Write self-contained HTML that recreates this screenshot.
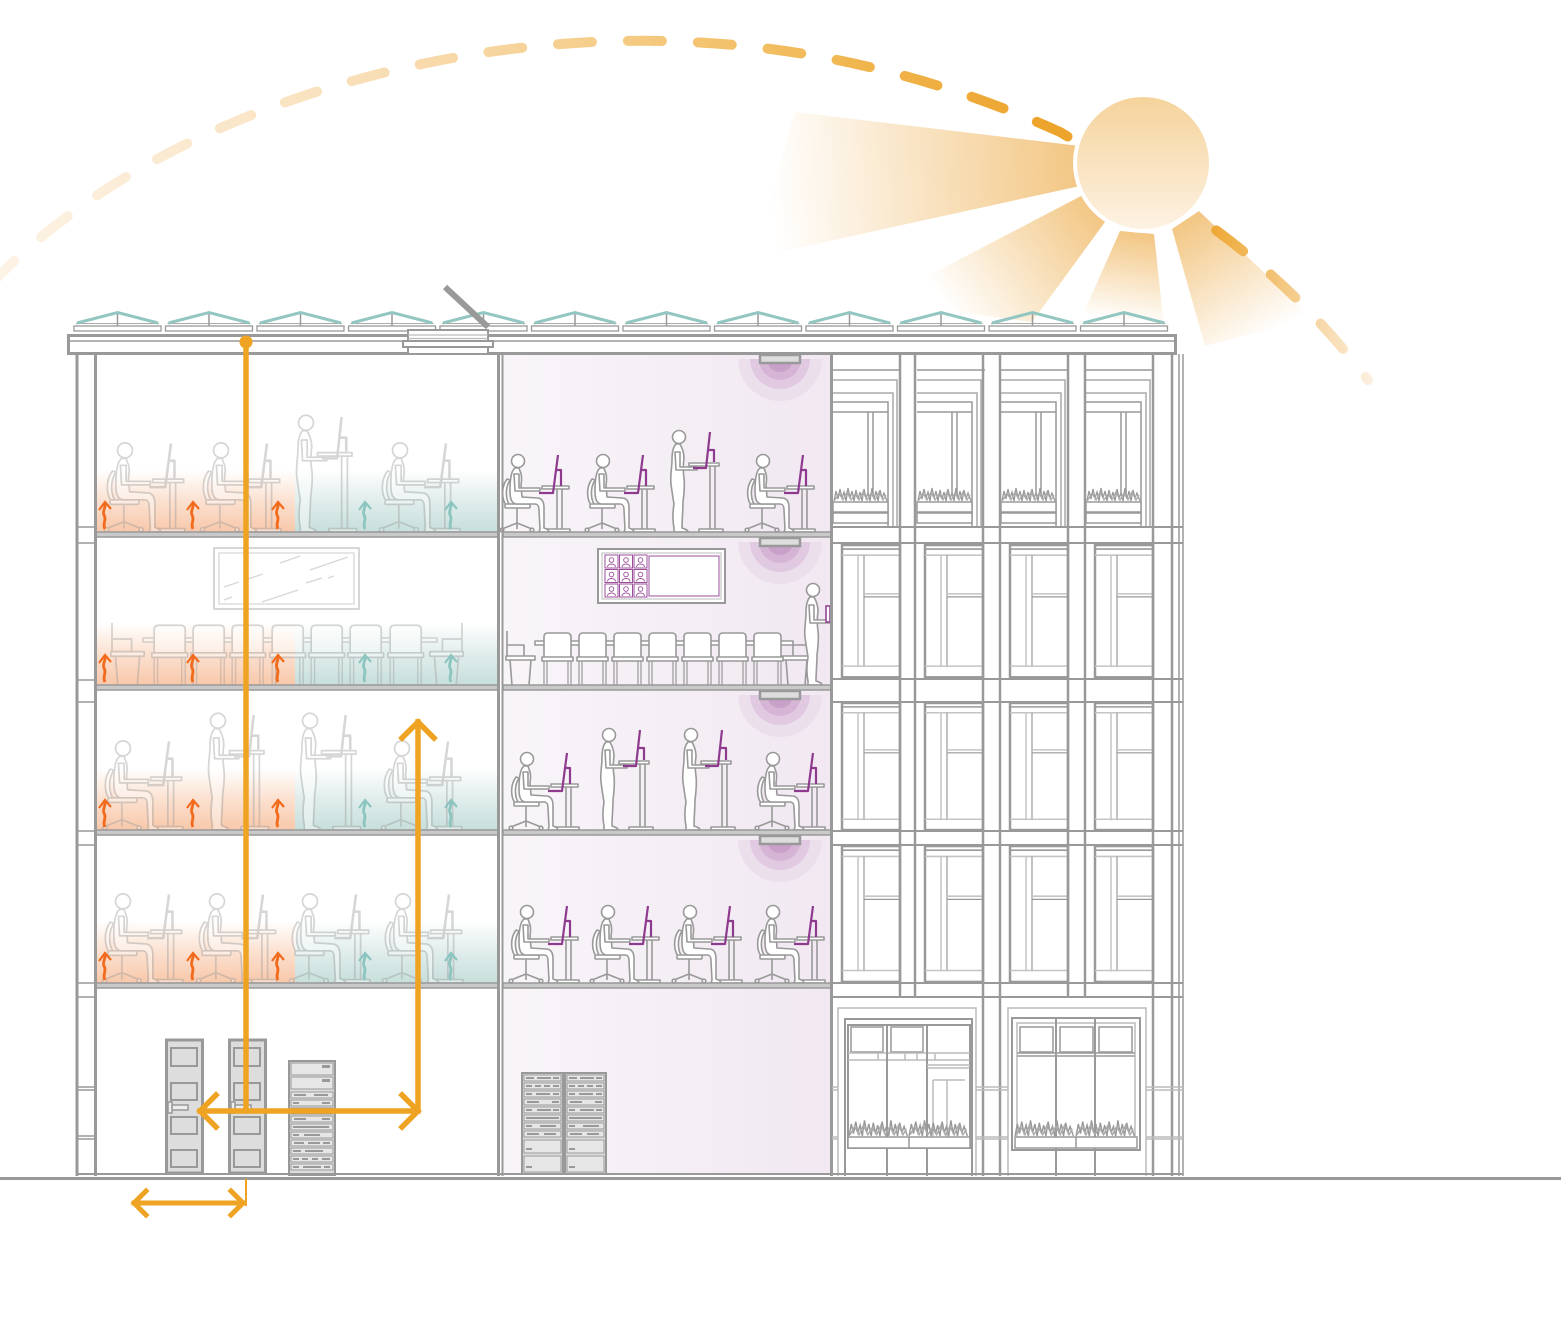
<!DOCTYPE html>
<html><head><meta charset="utf-8"><style>
html,body{margin:0;padding:0;background:#fff;}
svg{display:block;}
</style></head><body>
<svg width="1561" height="1320" viewBox="0 0 1561 1320" xmlns="http://www.w3.org/2000/svg">
<defs>
 <linearGradient id="arcG" gradientUnits="userSpaceOnUse" x1="0" y1="0" x2="1370" y2="0">
  <stop offset="0" stop-color="#fdf3e6"/>
  <stop offset="0.23" stop-color="#f9e2bf"/>
  <stop offset="0.42" stop-color="#f6cf8f"/>
  <stop offset="0.6" stop-color="#f1b955"/>
  <stop offset="0.76" stop-color="#eda42d"/>
  <stop offset="0.88" stop-color="#eda52e"/>
  <stop offset="0.92" stop-color="#f1bd66"/>
  <stop offset="0.96" stop-color="#f6d6a4"/>
  <stop offset="1" stop-color="#fcefde"/>
 </linearGradient>
 <linearGradient id="sunG" x1="0" y1="0" x2="0" y2="1">
  <stop offset="0" stop-color="#f5d39b"/>
  <stop offset="1" stop-color="#fdf2e3"/>
 </linearGradient>
 <linearGradient id="r1" gradientUnits="userSpaceOnUse" x1="1078" y1="166" x2="770" y2="190">
  <stop offset="0" stop-color="#f2c47e" stop-opacity="0.95"/>
  <stop offset="1" stop-color="#f2c47e" stop-opacity="0"/>
 </linearGradient>
 <linearGradient id="r2" gradientUnits="userSpaceOnUse" x1="1092" y1="208" x2="950" y2="312">
  <stop offset="0" stop-color="#f2c47e" stop-opacity="0.95"/>
  <stop offset="1" stop-color="#f2c47e" stop-opacity="0"/>
 </linearGradient>
 <linearGradient id="r3" gradientUnits="userSpaceOnUse" x1="1137" y1="234" x2="1125" y2="322">
  <stop offset="0" stop-color="#f2c47e" stop-opacity="0.95"/>
  <stop offset="1" stop-color="#f2c47e" stop-opacity="0"/>
 </linearGradient>
 <linearGradient id="r4" gradientUnits="userSpaceOnUse" x1="1185" y1="222" x2="1258" y2="342">
  <stop offset="0" stop-color="#f2c47e" stop-opacity="0.95"/>
  <stop offset="1" stop-color="#f2c47e" stop-opacity="0"/>
 </linearGradient>
 <linearGradient id="lav" x1="0" y1="0" x2="1" y2="0">
  <stop offset="0" stop-color="#f8f5f9"/>
  <stop offset="1" stop-color="#f1e8f1"/>
 </linearGradient>
 <linearGradient id="gO" x1="0" y1="0" x2="0" y2="1">
  <stop offset="0" stop-color="#f8c8aa" stop-opacity="0"/>
  <stop offset="0.5" stop-color="#f8c8aa" stop-opacity="0.55"/>
  <stop offset="1" stop-color="#f8c8aa" stop-opacity="1"/>
 </linearGradient>
 <linearGradient id="gT" x1="0" y1="0" x2="0" y2="1">
  <stop offset="0" stop-color="#c7dfdc" stop-opacity="0"/>
  <stop offset="0.5" stop-color="#c7dfdc" stop-opacity="0.55"/>
  <stop offset="1" stop-color="#c7dfdc" stop-opacity="1"/>
 </linearGradient>

 <!-- seated person with chair & desk -->
 <g id="sit">
  <path d="M-11,-53 C-17,-45 -17,-31 -10,-25 L-7,-25 C-13,-32 -13,-44 -8,-52 Z" fill="#fff"/>
  <path d="M-1,-24 V-9 M-16,-3 L-1,-9 L14,-3 M-1,-9 V-3" fill="none"/>
  <circle cx="-16" cy="-2" r="1.8" fill="#fff"/>
  <circle cx="14" cy="-2" r="1.8" fill="#fff"/>
  <rect x="-13" y="-28" width="25" height="4" rx="1" fill="#fff"/>
  <rect x="24" y="-46" width="27" height="3" fill="#fff"/>
  <path d="M39,-43 V-3 M44,-43 V-3" fill="none"/>
  <rect x="28" y="-3" width="24" height="3" fill="#fff"/>
  <path d="M-3,-64 C-7,-61 -8,-52 -8,-42 C-8,-34 -7,-29 -2,-28 L17,-28 C20,-28 21,-26 21,-22 L22,-3 L21,0 L31,0 C31,-2 29,-3 26,-4 L26,-24 C26,-30 24,-34 19,-34 L4,-35 L3,-47 C4,-53 4,-57 2,-61 L1,-64 Z" fill="#fff"/>
  <circle cx="0" cy="-71" r="6.5" fill="#fff"/>
  <path d="M-4,-58 L-3,-41 L22,-41 L22,-44 L1,-44 L1,-58 Z" fill="#fff"/>
  <path d="M21,-39 L35,-39 L40,-77" fill="none" style="stroke:var(--acc)" stroke-width="2.2"/>
  <path d="M39,-62 L43,-62 L43,-46" fill="none" style="stroke:var(--acc)" stroke-width="2.2"/>
 </g>
 <!-- standing person -->
 <g id="stdP">
  <path d="M-3,-88 C-6,-85 -7,-80 -7,-72 C-7,-64 -9,-56 -8,-48 C-7,-40 -6,-34 -5,-28 C-6,-22 -7,-14 -5,-4 L-5,0 L9,0 C9,-2 6,-3 3,-4 C3,-12 4,-22 4,-30 C5,-38 6,-46 5,-54 C4,-60 4,-66 5,-74 C5,-80 3,-84 1,-88 Z" fill="#fff"/>
  <circle cx="0" cy="-95" r="6.5" fill="#fff"/>
  <path d="M-4,-80 L-3,-62 L18,-62 L18,-65 L1,-65 L1,-80 Z" fill="#fff"/>
 </g>
 <g id="std">
  <rect x="10" y="-69" width="30" height="3" fill="#fff"/>
  <path d="M31,-66 V-3 M36,-66 V-3" fill="none"/>
  <rect x="20" y="-3" width="24" height="3" fill="#fff"/>
  <use href="#stdP"/>
  <path d="M14,-64 L27,-64 L31,-100" fill="none" style="stroke:var(--acc)" stroke-width="2.2"/>
  <path d="M30,-82 L35,-82 L35,-70" fill="none" style="stroke:var(--acc)" stroke-width="2.2"/>
 </g>
 <!-- meeting chair front -->
 <g id="mch">
  <path d="M1,-27 V-48 Q1,-52 5,-52 H24 Q28,-52 28,-48 V-27 Z" fill="#fff"/>
  <rect x="-1" y="-28" width="31" height="4" fill="#fff"/>
  <path d="M1,-24 V0 M28,-24 V0 M4,-24 V0 M25,-24 V0" fill="none" stroke-width="1.2"/>
 </g>
 <!-- side chair -->
 <g id="sch">
  <path d="M0,-54 V-28 M0,-40 H17 V-28 M3,-25 L5,0 M24,-25 L22,0" fill="none"/>
  <rect x="-1" y="-29" width="29" height="4" fill="#fff"/>
 </g>
 <!-- heat arrow -->
 <g id="ha" fill="none">
  <path d="M0,0 C-3,-5 2,-9 -1,-14 C-3,-18 1,-21 0,-26" stroke-width="2.8"/>
  <path d="M-6,-19 L0,-27 L6,-20" stroke-width="2.2"/>
 </g>
 <!-- plants -->
 <g id="pl" fill="none" stroke="#999" stroke-width="1.3">
  <path d="M1,0 L3,-10 L5,-2 L7,-12 L9,-3 L11,-9 L13,0 L15,-13 L17,-3 L19,-10 L21,0 L23,-11 L25,-2 L27,-9 L29,0 L31,-12 L33,-3 L35,-8 L37,0 L39,-13 L41,-2 L43,-10 L45,0 L47,-11 L49,-3 L51,-8 L54,0"/>
  <path d="M2,-1 L6,-8 L10,-1 L14,-9 L18,-1 L22,-7 L26,-1 L30,-9 L34,-1 L38,-8 L42,-1 L46,-9 L50,-1 L53,-6" stroke="#aaa"/>
 </g>
 <!-- skylight -->
 <g id="sk">
  <rect x="0" y="326" width="87" height="5" fill="#fff" stroke="#999" stroke-width="1.3"/>
  <path d="M2,323.5 H85" stroke="#aaa" stroke-width="1"/>
  <path d="M43.5,313 V326" stroke="#999" stroke-width="1.5"/>
  <path d="M3,323 L43.5,312.5 L84,323" stroke="#93c6c1" stroke-width="3" fill="none"/>
 </g>
 <!-- top floor bay -->
 <g id="tb" fill="none">
  <path d="M0,16 H68" stroke="#999" stroke-width="1.5"/>
  <path d="M0,26 H64 V173 M0,39 H60 V173" stroke="#aaa" stroke-width="1.5"/>
  <path d="M0,48 H55 V173 M0,58 H55" stroke="#999" stroke-width="1.5"/>
  <path d="M35,58 V140 M40,58 V140" stroke="#999" stroke-width="1.5"/>
  <use href="#pl" transform="translate(0,147)"/>
  <rect x="0" y="148" width="55" height="10" fill="#fff" stroke="#999" stroke-width="1.5"/>
  <rect x="0" y="159" width="55" height="10" fill="#fff" stroke="#999" stroke-width="1.5"/>
 </g>
 <!-- window -->
 <g id="wn" fill="none">
  <rect x="0" y="0" width="58" height="130" fill="#fff" stroke="#999" stroke-width="2.5"/>
  <path d="M0,4 H58" stroke="#999" stroke-width="1.5"/>
  <path d="M0,10 H58" stroke="#c4c4c4" stroke-width="1.5"/>
  <path d="M16,10 V120" stroke="#c4c4c4" stroke-width="1.5"/>
  <path d="M22,10 V120" stroke="#999" stroke-width="1.2"/>
  <path d="M22,48 H58" stroke="#c4c4c4" stroke-width="1.5"/>
  <path d="M22,51 H58" stroke="#999" stroke-width="1.2"/>
  <path d="M0,119 H58" stroke="#c4c4c4" stroke-width="1.5"/>
 </g>
 <!-- video cell -->
 <g id="vc">
  <rect width="13" height="13" fill="#fff" stroke="#9b4f9b" stroke-width="1"/>
  <circle cx="6.5" cy="5" r="2.3" fill="none" stroke="#9b4f9b" stroke-width="0.9"/>
  <path d="M2.5,12 C2.5,8 10.5,8 10.5,12" fill="none" stroke="#9b4f9b" stroke-width="0.9"/>
 </g>
</defs>

<!-- SUN RAYS -->
<polygon points="1080,146 795,112 752,258 1080,186" fill="url(#r1)"/>
<polygon points="1083,195 878,302 1032,322 1105,222" fill="url(#r2)"/>
<polygon points="1120,231 1084,312 1164,326 1154,234" fill="url(#r3)"/>
<polygon points="1172,229 1205,346 1312,318 1199,211" fill="url(#r4)"/>

<!-- ARC -->
<path d="M-10,285 C140,127 370,65 520,48 C700,27 880,51 1060,132 C1160,192 1265,245 1368,380" fill="none" stroke="url(#arcG)" stroke-width="10" stroke-linecap="round" stroke-dasharray="34 36"/>

<!-- SUN -->
<circle cx="1143" cy="163" r="70" fill="#fff"/>
<circle cx="1143" cy="163" r="66" fill="url(#sunG)"/>

<!-- MIDDLE BACKGROUND -->
<rect x="503" y="354" width="328" height="821" fill="url(#lav)"/>

<!-- LEFT GRADIENTS -->
<g>
 <rect x="96" y="470" width="199" height="62" fill="url(#gO)"/>
 <rect x="295" y="470" width="203" height="62" fill="url(#gT)"/>
 <rect x="96" y="623" width="199" height="62" fill="url(#gO)"/>
 <rect x="295" y="623" width="203" height="62" fill="url(#gT)"/>
 <rect x="96" y="768" width="199" height="62" fill="url(#gO)"/>
 <rect x="295" y="768" width="203" height="62" fill="url(#gT)"/>
 <rect x="96" y="921" width="199" height="62" fill="url(#gO)"/>
 <rect x="295" y="921" width="203" height="62" fill="url(#gT)"/>
</g>

<!-- GLOWS -->
<g>
 <path d="M738,359 A42,42 0 0 0 822,359 Z" fill="#ecdfec"/>
 <path d="M750,359 A30,30 0 0 0 810,359 Z" fill="#e1cae1"/>
 <path d="M759,359 A21,21 0 0 0 801,359 Z" fill="#d5b4d5"/>
 <path d="M767,359 A13,13 0 0 0 793,359 Z" fill="#c9a0c9"/>

 <path d="M738,542 A42,42 0 0 0 822,542 Z" fill="#ecdfec"/>
 <path d="M750,542 A30,30 0 0 0 810,542 Z" fill="#e1cae1"/>
 <path d="M759,542 A21,21 0 0 0 801,542 Z" fill="#d5b4d5"/>
 <path d="M767,542 A13,13 0 0 0 793,542 Z" fill="#c9a0c9"/>

 <path d="M738,695 A42,42 0 0 0 822,695 Z" fill="#ecdfec"/>
 <path d="M750,695 A30,30 0 0 0 810,695 Z" fill="#e1cae1"/>
 <path d="M759,695 A21,21 0 0 0 801,695 Z" fill="#d5b4d5"/>
 <path d="M767,695 A13,13 0 0 0 793,695 Z" fill="#c9a0c9"/>

 <path d="M738,840 A42,42 0 0 0 822,840 Z" fill="#ecdfec"/>
 <path d="M750,840 A30,30 0 0 0 810,840 Z" fill="#e1cae1"/>
 <path d="M759,840 A21,21 0 0 0 801,840 Z" fill="#d5b4d5"/>
 <path d="M767,840 A13,13 0 0 0 793,840 Z" fill="#c9a0c9"/>
</g>
<g fill="#ddd" stroke="#999" stroke-width="2.5">
 <rect x="760" y="355" width="40" height="8"/>
 <rect x="760" y="538" width="40" height="8"/>
 <rect x="760" y="691" width="40" height="8"/>
 <rect x="760" y="836" width="40" height="8"/>
</g>

<!-- LEFT FIGURES (faded) -->
<g stroke="#999" stroke-width="1.5" stroke-linejoin="round" opacity="0.4" style="--acc:#999">
 <use href="#sit" transform="translate(125,532) scale(1.15)"/>
 <use href="#sit" transform="translate(221,532) scale(1.15)"/>
 <use href="#std" transform="translate(306,532) scale(1.15)"/>
 <use href="#sit" transform="translate(400,532) scale(1.15)"/>

 <use href="#sit" transform="translate(123,830) scale(1.15)"/>
 <use href="#std" transform="translate(218,830) scale(1.15)"/>
 <use href="#std" transform="translate(310,830) scale(1.15)"/>
 <use href="#sit" transform="translate(402,830) scale(1.15)"/>

 <use href="#sit" transform="translate(123,983) scale(1.15)"/>
 <use href="#sit" transform="translate(217,983) scale(1.15)"/>
 <use href="#sit" transform="translate(310,983) scale(1.15)"/>
 <use href="#sit" transform="translate(403,983) scale(1.15)"/>

 <!-- left meeting room -->
 <rect x="214" y="548" width="145" height="61" fill="#fff" stroke-width="2"/>
 <rect x="219" y="553" width="135" height="51" fill="none" stroke-width="1.3"/>
 <path d="M224,587 L239,582 M245,580 L263,574 M280,563 L300,556 M310,570 L348,557 M262,602 L298,590 M306,583 L322,578 M328,578 L334,576 M224,600 L232,597" fill="none" stroke-width="1.3"/>
 <rect x="143" y="638" width="294" height="4" fill="#fff"/>
 <use href="#sch" transform="translate(112,685) scale(1.15)"/>
 <use href="#sch" transform="translate(462,685) scale(-1.15,1.15)"/>
 <use href="#mch" transform="translate(153,685) scale(1.15)"/>
 <use href="#mch" transform="translate(192,685) scale(1.15)"/>
 <use href="#mch" transform="translate(231,685) scale(1.15)"/>
 <use href="#mch" transform="translate(271,685) scale(1.15)"/>
 <use href="#mch" transform="translate(310,685) scale(1.15)"/>
 <use href="#mch" transform="translate(349,685) scale(1.15)"/>
 <use href="#mch" transform="translate(389,685) scale(1.15)"/>
</g>

<!-- MIDDLE FIGURES -->
<g stroke="#999" stroke-width="1.6" stroke-linejoin="round" style="--acc:#8e3a8e">
 <use href="#sit" transform="translate(518,532)"/>
 <use href="#sit" transform="translate(603,532)"/>
 <use href="#std" transform="translate(679,532)"/>
 <use href="#sit" transform="translate(763,532)"/>

 <use href="#sit" transform="translate(527,830)"/>
 <use href="#std" transform="translate(609,830)"/>
 <use href="#std" transform="translate(691,830)"/>
 <use href="#sit" transform="translate(773,830)"/>

 <use href="#sit" transform="translate(527,983)"/>
 <use href="#sit" transform="translate(608,983)"/>
 <use href="#sit" transform="translate(690,983)"/>
 <use href="#sit" transform="translate(773,983)"/>

 <!-- meeting -->
 <rect x="535" y="641" width="258" height="4" fill="#fff"/>
 <use href="#sch" transform="translate(507,685)"/>
 <use href="#sch" transform="translate(810,685) scale(-1,1)"/>
 <use href="#mch" transform="translate(543,685)"/>
 <use href="#mch" transform="translate(578,685)"/>
 <use href="#mch" transform="translate(613,685)"/>
 <use href="#mch" transform="translate(648,685)"/>
 <use href="#mch" transform="translate(683,685)"/>
 <use href="#mch" transform="translate(718,685)"/>
 <use href="#mch" transform="translate(753,685)"/>
 <use href="#stdP" transform="translate(813,685)"/>
</g>
<rect x="826" y="606" width="4" height="16" fill="#fff" stroke="#8e3a8e" stroke-width="1.5"/>
<!-- video screen -->
<rect x="598" y="549" width="127" height="54" fill="#fff" stroke="#999" stroke-width="2"/>
<rect x="602" y="553" width="119" height="46" fill="#fff" stroke="#bbb" stroke-width="1"/>
<use href="#vc" transform="translate(605,555)"/>
<use href="#vc" transform="translate(619.5,555)"/>
<use href="#vc" transform="translate(634,555)"/>
<use href="#vc" transform="translate(605,569.5)"/>
<use href="#vc" transform="translate(619.5,569.5)"/>
<use href="#vc" transform="translate(634,569.5)"/>
<use href="#vc" transform="translate(605,584)"/>
<use href="#vc" transform="translate(619.5,584)"/>
<use href="#vc" transform="translate(634,584)"/>
<rect x="649" y="556" width="70" height="40" fill="#fff" stroke="#9b4f9b" stroke-width="1"/>

<!-- HEAT ARROWS -->
<g stroke="#f26a1b">
 <use href="#ha" transform="translate(105,529)"/><use href="#ha" transform="translate(193,529)"/><use href="#ha" transform="translate(278,529)"/>
 <use href="#ha" transform="translate(105,682)"/><use href="#ha" transform="translate(193,682)"/><use href="#ha" transform="translate(278,682)"/>
 <use href="#ha" transform="translate(105,827)"/><use href="#ha" transform="translate(193,827)"/><use href="#ha" transform="translate(278,827)"/>
 <use href="#ha" transform="translate(105,980)"/><use href="#ha" transform="translate(193,980)"/><use href="#ha" transform="translate(278,980)"/>
</g>
<g stroke="#8cc5c0">
 <use href="#ha" transform="translate(365,529)"/><use href="#ha" transform="translate(451,529)"/>
 <use href="#ha" transform="translate(365,682)"/><use href="#ha" transform="translate(451,682)"/>
 <use href="#ha" transform="translate(365,827)"/><use href="#ha" transform="translate(451,827)"/>
 <use href="#ha" transform="translate(365,980)"/><use href="#ha" transform="translate(451,980)"/>
</g>

<!-- SLABS -->
<g fill="#c9c9c9" stroke="#999" stroke-width="1.5">
 <rect x="96" y="532" width="402" height="5"/>
 <rect x="503" y="532" width="328" height="5"/>
 <rect x="96" y="685" width="402" height="5"/>
 <rect x="503" y="685" width="328" height="5"/>
 <rect x="96" y="830" width="402" height="5"/>
 <rect x="503" y="830" width="328" height="5"/>
 <rect x="96" y="983" width="402" height="5"/>
 <rect x="503" y="983" width="328" height="5"/>
</g>

<!-- WALLS -->
<g stroke="#999" fill="none">
 <path d="M77,354 V1176" stroke-width="3"/>
 <path d="M95.5,354 V1176" stroke-width="3"/>
 <path d="M498.5,354 V1176" stroke-width="3"/>
 <path d="M502.5,354 V1176" stroke-width="2"/>
 <path d="M831.5,354 V1176" stroke-width="3"/>
 <path d="M77,527 H95 M77,543 H95 M77,680 H95 M77,702 H95 M77,831 H95 M77,845 H95 M77,983 H95 M77,997 H95 M77,1087 H95 M77,1090 H95 M77,1136 H95 M77,1139 H95" stroke-width="1.5"/>
</g>

<!-- FACADE -->
<g fill="none">
 <use href="#tb" transform="translate(833,354)"/>
 <use href="#tb" transform="translate(917,354)"/>
 <use href="#tb" transform="translate(1001,354)"/>
 <use href="#tb" transform="translate(1086,354)"/>

 <use href="#wn" transform="translate(842,545) scale(1,1.018)"/>
 <use href="#wn" transform="translate(925,545) scale(1,1.018)"/>
 <use href="#wn" transform="translate(1010,545) scale(1,1.018)"/>
 <use href="#wn" transform="translate(1095,545) scale(1,1.018)"/>

 <use href="#wn" transform="translate(842,703) scale(1,0.977)"/>
 <use href="#wn" transform="translate(925,703) scale(1,0.977)"/>
 <use href="#wn" transform="translate(1010,703) scale(1,0.977)"/>
 <use href="#wn" transform="translate(1095,703) scale(1,0.977)"/>

 <use href="#wn" transform="translate(842,846) scale(1,1.046)"/>
 <use href="#wn" transform="translate(925,846) scale(1,1.046)"/>
 <use href="#wn" transform="translate(1010,846) scale(1,1.046)"/>
 <use href="#wn" transform="translate(1095,846) scale(1,1.046)"/>

 <path d="M832,527 H1183 M832,543 H1183 M832,679 H1183 M832,702 H1183 M832,831 H1183 M832,845 H1183 M832,983 H1183 M832,997 H1183" stroke="#999" stroke-width="2"/>
 <path d="M983,354 V1176 M1000,354 V1176 M1153,354 V1176 M1172,354 V1176" stroke="#999" stroke-width="2.5"/>
 <path d="M1179,354 V1176 M1183,354 V1176" stroke="#999" stroke-width="1.5"/>
 <path d="M900,354 V997 M915,354 V997 M1068,354 V997 M1085,354 V997" stroke="#999" stroke-width="2.5"/>

 <!-- ground floor left window group -->
 <path d="M838,1176 V1008 H976 V1176" stroke="#bbb" stroke-width="1.5"/>
 <path d="M845,1176 V1019 H972 V1176" stroke="#999" stroke-width="2"/>
 <rect x="848" y="1025" width="122" height="123" fill="#fff" stroke="#999" stroke-width="2"/>
 <rect x="851" y="1027" width="32" height="25" stroke="#999" stroke-width="1.5"/>
 <rect x="891" y="1027" width="32" height="25" stroke="#999" stroke-width="1.5"/>
 <path d="M848,1053 H970 M848,1060 H970 M878,1053 V1060 M905,1053 V1060 M917,1053 V1060 M935,1053 V1060" stroke="#bbb" stroke-width="1.5"/>
 <path d="M887,1025 V1176 M927,1025 V1176" stroke="#999" stroke-width="2"/>
 <path d="M927,1065 H970 M927,1068 H970 M933,1080 H965 M933,1080 V1140 M947,1080 V1140" stroke="#bbb" stroke-width="1.5"/>
 <use href="#pl" transform="translate(848,1136) scale(1.1,1.2)"/>
 <use href="#pl" transform="translate(908,1136) scale(1.1,1.2)"/>
 <rect x="848" y="1137" width="122" height="11" fill="#fff" stroke="#999" stroke-width="1.5"/>
 <path d="M909,1137 V1148" stroke="#999" stroke-width="1.5"/>

 <!-- ground floor right window group -->
 <path d="M1008,1176 V1008 H1146 V1176" stroke="#bbb" stroke-width="1.5"/>
 <rect x="1012" y="1018" width="128" height="132" fill="#fff" stroke="#999" stroke-width="2"/>
 <rect x="1017" y="1023" width="118" height="124" stroke="#bbb" stroke-width="1.5"/>
 <rect x="1020" y="1027" width="33" height="25" stroke="#999" stroke-width="1.5"/>
 <rect x="1060" y="1027" width="33" height="25" stroke="#999" stroke-width="1.5"/>
 <rect x="1099" y="1027" width="33" height="25" stroke="#999" stroke-width="1.5"/>
 <path d="M1017,1053 H1135 M1017,1056 H1135" stroke="#999" stroke-width="1.5"/>
 <path d="M1056,1018 V1176 M1095,1018 V1176" stroke="#999" stroke-width="2"/>
 <use href="#pl" transform="translate(1014,1136) scale(1.1,1.2)"/>
 <use href="#pl" transform="translate(1075,1136) scale(1.1,1.2)"/>
 <rect x="1015" y="1137" width="122" height="11" fill="#fff" stroke="#999" stroke-width="1.5"/>
 <path d="M1076,1137 V1148" stroke="#999" stroke-width="1.5"/>

 <path d="M832,1087 H838 M832,1090 H838 M976,1087 H1008 M976,1090 H1008 M1146,1087 H1183 M1146,1090 H1183 M832,1137 H838 M832,1139 H838 M976,1137 H1008 M976,1139 H1008 M1146,1137 H1183 M1146,1139 H1183" stroke="#bbb" stroke-width="1.5"/>
</g>

<!-- ROOF -->
<rect x="68.5" y="335.5" width="1107" height="18" fill="#fff" stroke="#999" stroke-width="3"/>
<path d="M70,341 H1174" stroke="#999" stroke-width="1.5"/>
<g>
 <use href="#sk" transform="translate(74,0)"/>
 <use href="#sk" transform="translate(165.5,0)"/>
 <use href="#sk" transform="translate(257,0)"/>
 <use href="#sk" transform="translate(348.5,0)"/>
 <use href="#sk" transform="translate(440,0)"/>
 <use href="#sk" transform="translate(531.5,0)"/>
 <use href="#sk" transform="translate(623,0)"/>
 <use href="#sk" transform="translate(714.5,0)"/>
 <use href="#sk" transform="translate(806,0)"/>
 <use href="#sk" transform="translate(897.5,0)"/>
 <use href="#sk" transform="translate(989,0)"/>
 <use href="#sk" transform="translate(1080.5,0)"/>
</g>
<!-- hatch -->
<path d="M445,287 L488,327" stroke="#999" stroke-width="6"/>
<rect x="408" y="330" width="80" height="24" fill="#fff" stroke="#999" stroke-width="2"/>
<path d="M408,335 H488 M408,338.5 H488" stroke="#bbb" stroke-width="1.2"/>
<rect x="403" y="341" width="90" height="6" fill="#fff" stroke="#999" stroke-width="2"/>

<!-- GROUND FLOOR EQUIPMENT -->
<g stroke="#999">
 <rect x="166.5" y="1040" width="36" height="133" fill="#ddd" stroke-width="3"/>
 <rect x="171" y="1048" width="26" height="18" fill="#ddd" stroke-width="2"/>
 <rect x="171" y="1083" width="26" height="17" fill="#ddd" stroke-width="2"/>
 <rect x="171" y="1117" width="26" height="17" fill="#ddd" stroke-width="2"/>
 <rect x="171" y="1150" width="26" height="17" fill="#ddd" stroke-width="2"/>
 <rect x="172" y="1105" width="16" height="5" fill="#eee" stroke-width="1.5"/>
 <rect x="168" y="1102" width="4" height="11" fill="#eee" stroke-width="1.5"/>

 <rect x="229.5" y="1040" width="36" height="133" fill="#ddd" stroke-width="3"/>
 <rect x="234" y="1048" width="26" height="18" fill="#ddd" stroke-width="2"/>
 <rect x="234" y="1083" width="26" height="17" fill="#ddd" stroke-width="2"/>
 <rect x="234" y="1117" width="26" height="17" fill="#ddd" stroke-width="2"/>
 <rect x="234" y="1150" width="26" height="17" fill="#ddd" stroke-width="2"/>
 <rect x="235" y="1105" width="16" height="5" fill="#eee" stroke-width="1.5"/>
 <rect x="231" y="1102" width="4" height="11" fill="#eee" stroke-width="1.5"/>

 <!-- left rack -->
 <rect x="289" y="1061" width="46" height="114" fill="#ddd" stroke-width="2"/>
 <g fill="#e6e6e6" stroke-width="1">
  <rect x="291" y="1063" width="42" height="12"/>
  <rect x="291" y="1077" width="42" height="12"/>
  <rect x="291" y="1092" width="42" height="6"/>
  <rect x="291" y="1100" width="42" height="6"/>
  <rect x="291" y="1108" width="42" height="6"/>
  <rect x="291" y="1116" width="42" height="6"/>
  <rect x="291" y="1124" width="42" height="6"/>
  <rect x="291" y="1132" width="42" height="6"/>
  <rect x="291" y="1140" width="42" height="6"/>
  <rect x="291" y="1148" width="42" height="6"/>
  <rect x="291" y="1156" width="42" height="6"/>
  <rect x="291" y="1164" width="42" height="6"/>
 </g>
 <g fill="#999" stroke="none">
  <rect x="322" y="1065" width="8" height="3"/><rect x="322" y="1079" width="8" height="3"/>
  <rect x="294" y="1094" width="12" height="2"/><rect x="314" y="1094" width="14" height="2"/>
  <rect x="293" y="1102" width="6" height="2"/><rect x="322" y="1102" width="8" height="2"/>
  <rect x="293" y="1110" width="6" height="2"/><rect x="303" y="1110" width="14" height="2"/><rect x="322" y="1110" width="8" height="2"/>
  <rect x="294" y="1118" width="12" height="2"/><rect x="322" y="1118" width="8" height="2"/>
  <rect x="293" y="1126" width="36" height="2"/>
  <rect x="293" y="1134" width="6" height="2"/><rect x="304" y="1134" width="16" height="2"/>
  <rect x="294" y="1142" width="10" height="2"/><rect x="308" y="1142" width="12" height="2"/><rect x="323" y="1142" width="7" height="2"/>
  <rect x="293" y="1150" width="8" height="2"/><rect x="305" y="1150" width="18" height="2"/>
  <rect x="293" y="1158" width="6" height="2"/><rect x="302" y="1158" width="6" height="2"/><rect x="312" y="1158" width="6" height="2"/><rect x="322" y="1158" width="8" height="2"/>
  <rect x="293" y="1166" width="6" height="2"/><rect x="303" y="1166" width="18" height="2"/><rect x="324" y="1166" width="6" height="2"/>
 </g>

 <!-- middle racks -->
 <rect x="522" y="1073" width="41" height="101" fill="#ddd" stroke-width="2"/>
 <rect x="565" y="1073" width="41" height="101" fill="#ddd" stroke-width="2"/>
 <g fill="#e6e6e6" stroke-width="1">
  <rect x="524" y="1075" width="37" height="6"/><rect x="524" y="1083" width="37" height="6"/><rect x="524" y="1091" width="37" height="6"/><rect x="524" y="1099" width="37" height="6"/><rect x="524" y="1107" width="37" height="6"/><rect x="524" y="1115" width="37" height="6"/><rect x="524" y="1123" width="37" height="6"/><rect x="524" y="1131" width="37" height="6"/><rect x="524" y="1140" width="37" height="13"/><rect x="524" y="1156" width="37" height="16"/>
  <rect x="567" y="1075" width="37" height="6"/><rect x="567" y="1083" width="37" height="6"/><rect x="567" y="1091" width="37" height="6"/><rect x="567" y="1099" width="37" height="6"/><rect x="567" y="1107" width="37" height="6"/><rect x="567" y="1115" width="37" height="6"/><rect x="567" y="1123" width="37" height="6"/><rect x="567" y="1131" width="37" height="6"/><rect x="567" y="1140" width="37" height="13"/><rect x="567" y="1156" width="37" height="16"/>
 </g>
 <g fill="#999" stroke="none">
  <rect x="526" y="1077" width="8" height="2"/><rect x="537" y="1077" width="14" height="2"/><rect x="553" y="1077" width="6" height="2"/>
  <rect x="526" y="1085" width="6" height="2"/><rect x="535" y="1085" width="6" height="2"/><rect x="544" y="1085" width="6" height="2"/><rect x="553" y="1085" width="6" height="2"/>
  <rect x="526" y="1093" width="6" height="2"/><rect x="536" y="1093" width="14" height="2"/><rect x="553" y="1093" width="6" height="2"/>
  <rect x="527" y="1101" width="12" height="2"/><rect x="552" y="1101" width="7" height="2"/>
  <rect x="526" y="1109" width="6" height="2"/><rect x="537" y="1109" width="14" height="2"/><rect x="553" y="1109" width="6" height="2"/>
  <rect x="526" y="1117" width="33" height="2"/>
  <rect x="526" y="1125" width="6" height="2"/><rect x="540" y="1125" width="16" height="2"/>
  <rect x="527" y="1133" width="12" height="2"/><rect x="544" y="1133" width="12" height="2"/>
  <rect x="526" y="1148" width="6" height="2"/><rect x="526" y="1166" width="6" height="2"/>
  <rect x="569" y="1077" width="8" height="2"/><rect x="580" y="1077" width="14" height="2"/><rect x="596" y="1077" width="6" height="2"/>
  <rect x="569" y="1085" width="6" height="2"/><rect x="578" y="1085" width="6" height="2"/><rect x="587" y="1085" width="6" height="2"/><rect x="596" y="1085" width="6" height="2"/>
  <rect x="569" y="1093" width="6" height="2"/><rect x="579" y="1093" width="14" height="2"/><rect x="596" y="1093" width="6" height="2"/>
  <rect x="570" y="1101" width="12" height="2"/><rect x="595" y="1101" width="7" height="2"/>
  <rect x="569" y="1109" width="6" height="2"/><rect x="580" y="1109" width="14" height="2"/><rect x="596" y="1109" width="6" height="2"/>
  <rect x="569" y="1117" width="33" height="2"/>
  <rect x="569" y="1125" width="6" height="2"/><rect x="583" y="1125" width="16" height="2"/>
  <rect x="570" y="1133" width="12" height="2"/><rect x="587" y="1133" width="12" height="2"/>
  <rect x="569" y="1148" width="6" height="2"/><rect x="569" y="1166" width="6" height="2"/>
 </g>
</g>

<!-- building bottom + ground -->
<path d="M77,1174 H1183" stroke="#999" stroke-width="2"/>
<path d="M0,1178.5 H1561" stroke="#999" stroke-width="3"/>

<!-- ORANGE FLOW LINES -->
<g stroke="#efa323" fill="none" stroke-linecap="square">
 <path d="M246,342 V1111" stroke-width="5.5"/>
 <path d="M200,1111 H418 V722" stroke-width="5.5"/>
 <path d="M216,1095 L200,1111 L216,1127" stroke-width="5.5"/>
 <path d="M402,1095 L418,1111 L402,1127" stroke-width="5.5"/>
 <path d="M402,738 L418,722 L434,738" stroke-width="5.5"/>
 <path d="M246,1180 V1205" stroke-width="2"/>
 <path d="M134,1203 H243" stroke-width="5"/>
 <path d="M146,1191 L134,1203 L146,1215" stroke-width="5"/>
 <path d="M231,1191 L243,1203 L231,1215" stroke-width="5"/>
</g>
<circle cx="246" cy="342" r="6.5" fill="#efa323"/>
</svg>
</body></html>
